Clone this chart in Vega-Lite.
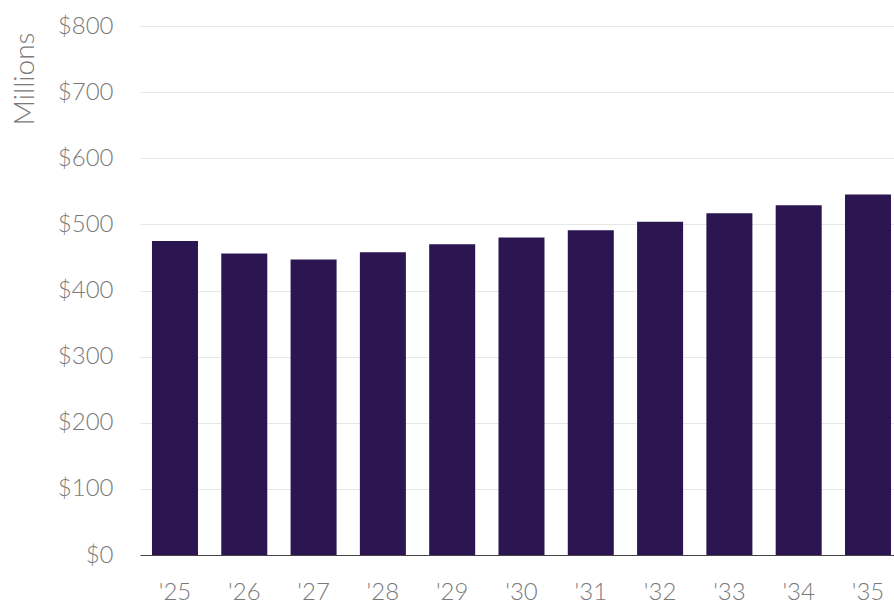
{
  "$schema": "https://vega.github.io/schema/vega-lite/v6.json",
  "autosize": "none",
  "padding": {"left": 140, "top": 26, "right": 0, "bottom": 52},
  "width": 754,
  "height": 529,
  "background": "white",
  "data": {
    "values": [
      {"year": "'25", "value": 475},
      {"year": "'26", "value": 456},
      {"year": "'27", "value": 447},
      {"year": "'28", "value": 458},
      {"year": "'29", "value": 470},
      {"year": "'30", "value": 480},
      {"year": "'31", "value": 491},
      {"year": "'32", "value": 504},
      {"year": "'33", "value": 517},
      {"year": "'34", "value": 529},
      {"year": "'35", "value": 545}
    ]
  },
  "mark": {"type": "bar", "color": "#2c1652"},
  "encoding": {
    "x": {
      "field": "year",
      "type": "ordinal",
      "sort": null,
      "scale": {"paddingInner": 0.336, "paddingOuter": 0.108, "align": 0.8},
      "axis": {
        "title": null,
        "labelAngle": 0,
        "labelFont": "Lato",
        "labelFontSize": 24,
        "labelFontWeight": 300,
        "labelColor": "#7a7a7a",
        "labelPadding": 25,
        "ticks": false,
        "domain": true,
        "domainColor": "#444444",
        "domainWidth": 1.2,
        "grid": false
      }
    },
    "y": {
      "field": "value",
      "type": "quantitative",
      "scale": {"domain": [0, 800], "nice": false},
      "axis": {
        "title": "Millions",
        "titleFont": "Lato",
        "titleFontSize": 28,
        "titleFontWeight": 300,
        "titleColor": "#7a7a7a",
        "titleAnchor": "end",
        "titleAlign": "right",
        "titleAngle": -90,
        "titleX": -107,
        "titleY": 6,
        "titleBaseline": "alphabetic",
        "values": [0, 100, 200, 300, 400, 500, 600, 700, 800],
        "labelExpr": "'$' + datum.value",
        "labelFont": "Lato",
        "labelFontSize": 24,
        "labelFontWeight": 300,
        "labelColor": "#7a7a7a",
        "labelPadding": 27,
        "ticks": false,
        "domain": false,
        "grid": true,
        "gridColor": "#e6e6e6",
        "gridWidth": 1
      }
    }
  },
  "config": {"view": {"stroke": null}}
}
